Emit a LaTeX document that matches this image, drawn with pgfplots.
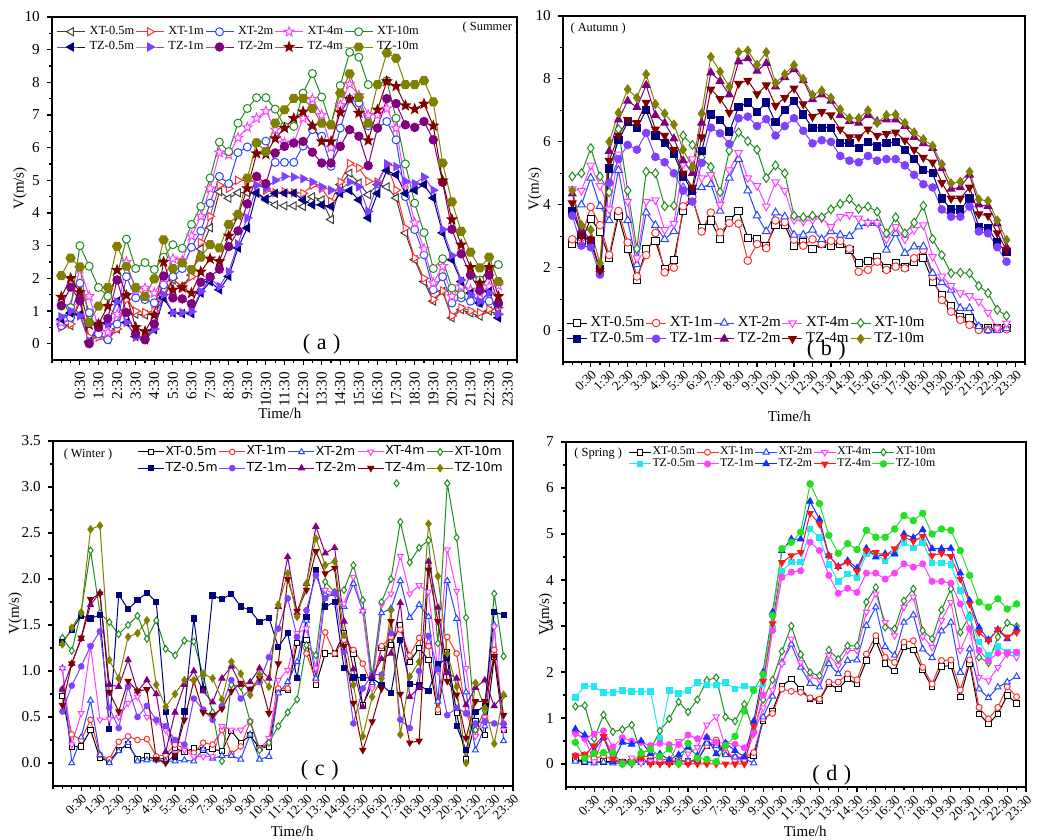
\documentclass[border=0pt]{standalone}
\usepackage{fontspec}
\setmainfont{Liberation Serif}
\newfontfamily\legsans{DejaVu Sans}
\usepackage{pgfplots}
\pgfplotsset{compat=1.18}

\definecolor{cgray}{HTML}{404040}
\definecolor{cred}{HTML}{FF3030}
\definecolor{cblue}{HTML}{2848FF}
\definecolor{cmag}{HTML}{FF40FF}
\definecolor{cgreen}{HTML}{1E8C1E}
\definecolor{cnavy}{HTML}{000080}
\definecolor{cviolet}{HTML}{8040FF}
\definecolor{cpurple}{HTML}{800080}
\definecolor{cmaroon}{HTML}{800000}
\definecolor{colive}{HTML}{808000}
\definecolor{dcyan}{HTML}{20E8F0}
\definecolor{dblue}{HTML}{1030FF}
\definecolor{dred}{HTML}{FF1818}
\definecolor{dgreen}{HTML}{22E022}

\pgfdeclareplotmark{star5}{%
  \pgfpathmoveto{\pgfpointpolar{90}{\pgfplotmarksize}}%
  \pgfpathlineto{\pgfpointpolar{126}{0.42\pgfplotmarksize}}%
  \pgfpathlineto{\pgfpointpolar{162}{\pgfplotmarksize}}%
  \pgfpathlineto{\pgfpointpolar{198}{0.42\pgfplotmarksize}}%
  \pgfpathlineto{\pgfpointpolar{234}{\pgfplotmarksize}}%
  \pgfpathlineto{\pgfpointpolar{270}{0.42\pgfplotmarksize}}%
  \pgfpathlineto{\pgfpointpolar{306}{\pgfplotmarksize}}%
  \pgfpathlineto{\pgfpointpolar{342}{0.42\pgfplotmarksize}}%
  \pgfpathlineto{\pgfpointpolar{18}{\pgfplotmarksize}}%
  \pgfpathlineto{\pgfpointpolar{54}{0.42\pgfplotmarksize}}%
  \pgfpathclose\pgfusepathqfillstroke}
\pgfdeclareplotmark{hexagon}{%
  \pgfpathmoveto{\pgfpointpolar{0}{\pgfplotmarksize}}%
  \pgfpathlineto{\pgfpointpolar{60}{\pgfplotmarksize}}%
  \pgfpathlineto{\pgfpointpolar{120}{\pgfplotmarksize}}%
  \pgfpathlineto{\pgfpointpolar{180}{\pgfplotmarksize}}%
  \pgfpathlineto{\pgfpointpolar{240}{\pgfplotmarksize}}%
  \pgfpathlineto{\pgfpointpolar{300}{\pgfplotmarksize}}%
  \pgfpathclose\pgfusepathqfillstroke}

\newcommand{\ser}[2]{\addplot[#1] table[x expr=\coordindex, y index=0, row sep=\\]{#2};}

\pgfplotsset{
  panel/.style={
    scale only axis, anchor=south west,
    axis line style={line width=0.9pt},
    tick style={black, line width=0.55pt}, tick align=outside,
    major tick length=2.6pt, minor tick length=1.6pt,
    tick pos=left,
    xtick={2,4,...,48},
    xticklabels={0:30,1:30,2:30,3:30,4:30,5:30,6:30,7:30,8:30,9:30,10:30,11:30,12:30,13:30,14:30,15:30,16:30,17:30,18:30,19:30,20:30,21:30,22:30,23:30},
    minor xtick={-1,0,...,49},
    minor y tick num=1,
    /pgf/number format/assume math mode=true,
    every tick label/.append style={font=\fontsize{7.6}{8}\selectfont},
    label style={font=\fontsize{7.5}{8}\selectfont},
    xlabel={Time/h}, ylabel={V(m/s)},
    legend columns=5, legend cell align=left,
    every axis plot/.append style={line width=0.5pt},
  },
  rot45/.style={x tick label style={rotate=45, anchor=north east, inner sep=0.5pt, font=\fontsize{6.6}{7}\selectfont}},
}

\begin{document}
\begin{tikzpicture}
\useasboundingbox (0,0) rectangle (519pt,420pt);

% ---------------- (a) Summer ----------------
\begin{axis}[panel, at={(26pt,240pt)}, width=232.5pt, height=171.5pt,
  xmin=-1, xmax=49, ymin=-0.5, ymax=10, ytick={0,1,...,10},
  x tick label style={rotate=90, anchor=east},
  ylabel shift=-8pt,
  xlabel style={at={(axis description cs:0.49,-0.155)}, anchor=center},
  legend image code/.code={\draw[mark repeat=2,mark phase=2] plot coordinates {(0pt,0pt) (7pt,0pt) (14pt,0pt)};},
  legend style={at={(0.009,0.978)}, anchor=north west, draw=none, fill=none, inner sep=0pt,
    font=\fontsize{6.2}{7}\selectfont, row sep=0.8pt, nodes={inner sep=0.6pt},
    /tikz/every odd column/.append style={column sep=1.4pt}}]
\ser{cgray, mark=triangle*, mark size=2.3pt, mark options={rotate=90, fill=white}}{0.6\\0.55\\1.3\\0.05\\0.25\\0.12\\0.45\\1.45\\0.9\\0.88\\0.9\\1.4\\1.95\\1.75\\2.1\\2.9\\3.55\\4.65\\4.45\\4.62\\4.62\\4.6\\4.4\\4.25\\4.22\\4.22\\4.2\\4.5\\4.4\\3.8\\4.87\\5.22\\4.92\\4.56\\4.87\\4.8\\4.46\\3.39\\2.57\\1.9\\1.3\\1.6\\0.79\\1.04\\0.94\\0.84\\1.0\\0.9\\}
\ser{cred, mark=triangle*, mark size=2.3pt, mark options={rotate=-90, fill=white}}{0.5\\0.6\\1.4\\0.2\\0.2\\0.15\\0.45\\1.35\\1.0\\0.95\\1.0\\1.5\\2.0\\1.7\\2.05\\3.1\\3.9\\4.85\\4.75\\5.0\\5.0\\4.95\\4.7\\4.62\\4.65\\4.62\\4.6\\4.85\\4.75\\4.35\\4.95\\5.52\\5.38\\4.97\\4.95\\5.5\\4.7\\3.54\\2.62\\2.0\\1.35\\1.62\\0.85\\1.1\\1.0\\0.95\\1.05\\1.1\\}
\ser{cblue, mark=*, mark size=2pt, mark options={fill=white}}{0.55\\0.8\\1.85\\0.95\\0.3\\0.12\\0.6\\2.05\\1.4\\1.35\\1.25\\1.8\\2.05\\2.3\\2.95\\3.45\\4.3\\5.12\\4.9\\5.85\\6.02\\6.15\\6.2\\5.55\\5.55\\5.55\\6.05\\6.55\\6.35\\5.43\\6.6\\7.49\\7.37\\6.67\\6.6\\6.8\\6.24\\4.5\\3.49\\2.72\\1.65\\2.05\\1.24\\1.4\\1.3\\1.25\\1.3\\1.2\\}
\ser{cmag, mark=star5, mark size=2.5pt, mark options={fill=white}}{0.65\\1.15\\2.3\\1.45\\0.5\\0.35\\0.9\\2.5\\1.65\\1.7\\1.55\\2.0\\2.6\\2.55\\3.3\\3.9\\4.75\\5.85\\5.78\\6.3\\6.62\\6.9\\7.12\\6.55\\6.15\\6.15\\6.9\\7.49\\7.0\\6.0\\7.3\\7.95\\7.6\\7.0\\7.0\\7.2\\6.6\\4.9\\3.7\\2.9\\1.86\\2.37\\1.45\\1.75\\1.65\\1.55\\1.75\\1.78\\}
\ser{cgreen, mark=*, mark size=2pt, mark options={fill=white}}{1.15\\1.1\\3.0\\2.37\\1.72\\1.45\\2.1\\3.2\\2.3\\2.48\\2.27\\2.65\\3.03\\2.92\\3.65\\4.2\\5.07\\6.17\\5.88\\6.75\\7.2\\7.53\\7.53\\7.18\\6.65\\6.65\\7.67\\8.27\\7.55\\6.7\\7.9\\8.92\\8.77\\7.93\\7.93\\8.05\\6.9\\5.5\\4.3\\3.4\\2.3\\2.6\\1.7\\1.5\\2.1\\1.95\\2.25\\2.42\\}
\ser{cnavy, mark=triangle*, mark size=2.3pt, mark options={rotate=90}}{0.75\\0.94\\0.89\\0.07\\0.58\\0.63\\1.3\\0.65\\0.22\\0.12\\0.43\\1.4\\0.94\\0.92\\0.92\\1.55\\1.9\\1.65\\2.06\\2.93\\3.54\\4.62\\4.43\\4.6\\4.61\\4.61\\4.4\\4.25\\4.25\\4.2\\4.6\\4.69\\4.4\\3.85\\4.6\\5.3\\5.17\\4.6\\4.7\\4.87\\4.46\\3.39\\2.57\\1.9\\1.55\\1.24\\1.6\\0.79\\}
\ser{cviolet, mark=triangle*, mark size=2.3pt, mark options={rotate=-90}}{0.82\\1.0\\0.85\\0.08\\0.6\\0.6\\1.28\\0.65\\0.2\\0.15\\0.45\\1.5\\0.95\\0.95\\0.98\\1.6\\2.0\\1.75\\2.2\\3.05\\3.85\\4.85\\4.75\\5.0\\5.12\\5.1\\5.05\\4.95\\4.8\\4.7\\4.7\\4.95\\4.8\\4.05\\4.9\\5.5\\5.42\\4.97\\4.9\\5.1\\4.7\\3.5\\2.7\\1.95\\1.5\\1.3\\1.55\\0.9\\}
\ser{cpurple, mark=*, mark size=2.1pt}{1.17\\1.73\\1.32\\0.0\\0.5\\0.77\\1.95\\0.95\\0.3\\0.12\\0.6\\2.07\\1.4\\1.37\\1.22\\1.88\\2.05\\2.28\\2.97\\3.45\\4.28\\5.12\\4.9\\5.84\\6.04\\6.14\\6.19\\5.86\\5.53\\5.53\\6.04\\6.55\\6.35\\5.45\\6.6\\7.5\\7.35\\6.7\\6.62\\6.8\\6.24\\4.94\\3.5\\2.75\\2.1\\1.63\\2.1\\1.24\\}
\ser{cmaroon, mark=star5, mark size=2.5pt}{1.43\\2.0\\1.57\\0.58\\0.6\\1.15\\2.25\\1.48\\0.5\\0.37\\0.88\\2.5\\1.65\\1.72\\1.55\\2.2\\2.6\\2.52\\3.3\\3.92\\4.75\\5.82\\5.8\\6.28\\6.6\\6.9\\7.1\\6.67\\6.19\\6.19\\7.08\\7.49\\7.06\\6.22\\7.16\\8.03\\7.88\\7.29\\7.18\\7.34\\6.67\\4.99\\3.8\\3.03\\2.34\\1.86\\2.34\\1.45\\}
\ser{colive, mark=hexagon, mark size=2.3pt}{2.08\\2.62\\2.35\\0.65\\1.15\\1.72\\2.98\\2.37\\1.72\\1.45\\1.98\\3.18\\2.3\\2.47\\2.27\\2.65\\3.03\\2.93\\3.65\\3.95\\5.07\\6.15\\5.88\\6.75\\7.16\\7.51\\7.51\\7.2\\6.75\\6.7\\7.67\\8.26\\7.54\\6.75\\7.93\\8.9\\8.74\\7.93\\7.93\\8.05\\7.4\\5.53\\4.34\\3.44\\2.8\\2.32\\2.65\\1.9\\}
\legend{XT-0.5m,XT-1m,XT-2m,XT-4m,XT-10m,TZ-0.5m,TZ-1m,TZ-2m,TZ-4m,TZ-10m}
\node[font=\fontsize{6.2}{7}\selectfont] at (rel axis cs:0.944,0.968) {(\hspace{0.25em}Summer\hspace{0.25em})};
\node[font=\fontsize{11}{12}\selectfont] at (rel axis cs:0.58,0.045) {(\hspace{0.3em}a\hspace{0.3em})};
\end{axis}

% ---------------- (b) Autumn ----------------
\begin{axis}[panel, rot45, at={(281.5pt,239pt)}, width=231pt, height=173pt,
  xmin=-1, xmax=49, ymin=-1, ymax=10, ytick={0,2,...,10},
  ylabel shift=-10pt,
  xlabel style={at={(axis description cs:0.49,-0.156)}, anchor=center},
  legend image code/.code={\draw[mark repeat=2,mark phase=2] plot coordinates {(0pt,0pt) (5pt,0pt) (10pt,0pt)};},
  legend style={at={(0.006,0.136)}, anchor=north west, draw=none, fill=none, inner sep=0pt,
    font=\fontsize{7.5}{8}\selectfont, row sep=0.2pt, nodes={inner sep=0.6pt},
    /tikz/every odd column/.append style={column sep=1pt}}]
\ser{black, mark=square*, mark size=1.8pt, mark options={fill=white}}{2.75\\2.85\\3.55\\3.15\\2.3\\3.65\\2.6\\1.6\\2.6\\2.85\\1.95\\2.25\\3.8\\4.2\\3.25\\3.5\\2.9\\3.5\\3.8\\2.95\\2.9\\2.7\\3.35\\3.35\\2.7\\2.8\\2.6\\2.75\\2.7\\2.75\\2.55\\2.14\\2.22\\2.35\\1.98\\2.14\\2.03\\2.19\\2.3\\1.56\\1.13\\0.78\\0.44\\0.39\\0.07\\0.07\\0.07\\0.07\\}
\ser{cred, mark=*, mark size=1.9pt, mark options={fill=white}}{2.9\\2.95\\3.93\\3.35\\2.4\\3.8\\2.8\\1.72\\2.4\\3.1\\1.85\\2.0\\3.95\\4.25\\3.15\\3.75\\3.12\\3.42\\3.4\\2.22\\2.75\\2.62\\3.5\\3.45\\2.89\\2.7\\2.9\\2.75\\2.85\\2.85\\2.6\\1.87\\1.93\\2.19\\1.93\\2.03\\1.98\\2.3\\2.56\\1.72\\0.97\\0.6\\0.34\\0.18\\0.02\\0.02\\0.07\\0.04\\}
\ser{cblue, mark=triangle*, mark size=2.2pt, mark options={fill=white}}{3.85\\4.0\\4.85\\3.95\\3.5\\5.1\\3.5\\2.1\\3.75\\3.35\\2.9\\3.15\\4.55\\4.45\\4.55\\4.65\\3.8\\4.85\\5.45\\4.45\\3.65\\3.15\\3.75\\3.62\\3.04\\3.04\\3.2\\2.9\\3.15\\3.04\\3.0\\3.3\\3.41\\3.41\\2.56\\3.09\\2.46\\2.67\\2.67\\1.82\\1.53\\1.29\\0.71\\0.71\\0.13\\0.0\\0.0\\0.07\\}
\ser{cmag, mark=triangle*, mark size=2.2pt, mark options={rotate=180, fill=white}}{4.5\\4.45\\5.25\\4.6\\3.85\\5.6\\4.1\\2.3\\4.1\\4.15\\3.2\\3.4\\5.3\\5.45\\4.85\\4.95\\4.0\\5.1\\5.65\\4.85\\4.6\\3.95\\4.72\\4.45\\3.52\\3.47\\3.52\\3.57\\3.3\\3.62\\3.68\\3.57\\3.43\\3.43\\2.9\\3.3\\2.9\\3.2\\3.35\\2.35\\1.72\\1.42\\1.19\\1.1\\0.92\\0.57\\0.07\\0.23\\}
\ser{cgreen, mark=diamond*, mark size=2.2pt, mark options={fill=white}}{4.9\\5.0\\5.8\\4.9\\4.4\\6.4\\4.45\\2.6\\5.05\\5.0\\3.95\\3.97\\6.2\\5.9\\5.5\\5.2\\4.4\\5.72\\6.3\\6.02\\5.75\\4.85\\5.25\\5.0\\3.65\\3.6\\3.65\\3.6\\3.85\\4.03\\4.18\\3.87\\3.94\\3.78\\3.09\\3.6\\3.09\\3.43\\3.97\\2.91\\2.4\\1.82\\1.84\\1.82\\1.42\\1.19\\0.66\\0.47\\}
\ser{cnavy, mark=square*, mark size=1.8pt}{3.8\\3.05\\2.8\\1.95\\5.15\\6.05\\6.62\\6.45\\7.0\\6.2\\5.95\\5.6\\4.9\\4.45\\5.7\\6.87\\6.7\\6.33\\7.1\\7.25\\6.95\\7.25\\6.62\\7.0\\7.3\\6.87\\6.44\\6.45\\6.45\\5.95\\5.95\\5.8\\6.0\\5.85\\5.95\\6.0\\5.75\\5.45\\5.1\\5.0\\4.2\\3.85\\3.85\\4.2\\3.3\\3.25\\2.8\\2.5\\}
\ser{cviolet, mark=*, mark size=1.9pt}{3.65\\2.7\\2.65\\1.78\\4.7\\5.45\\5.9\\5.75\\6.28\\5.52\\5.35\\5.0\\4.45\\4.1\\5.33\\6.45\\6.27\\5.93\\6.75\\6.8\\6.5\\6.72\\6.2\\6.5\\6.75\\6.35\\5.95\\6.05\\6.0\\5.55\\5.4\\5.35\\5.55\\5.4\\5.45\\5.45\\5.25\\4.95\\4.65\\4.55\\3.85\\3.62\\3.62\\3.94\\3.15\\3.09\\2.65\\2.19\\}
\ser{cpurple, mark=triangle*, mark size=2.2pt}{4.35\\3.2\\2.9\\1.95\\5.7\\6.7\\7.3\\7.1\\7.8\\6.85\\6.6\\6.1\\5.4\\5.0\\6.6\\8.2\\7.93\\7.5\\8.55\\8.65\\8.25\\8.5\\7.75\\8.05\\8.3\\7.95\\7.35\\7.5\\7.3\\6.85\\6.65\\6.6\\6.85\\6.65\\6.7\\6.7\\6.5\\6.15\\5.95\\5.8\\5.15\\4.5\\4.55\\4.95\\4.0\\3.95\\3.4\\2.65\\}
\ser{cmaroon, mark=triangle*, mark size=2.2pt, mark options={rotate=180}}{4.05\\3.0\\2.9\\1.9\\5.4\\6.2\\6.7\\6.6\\7.25\\6.4\\6.2\\5.75\\5.0\\4.55\\6.15\\7.67\\7.37\\6.93\\7.85\\7.95\\7.52\\7.8\\7.15\\7.4\\7.7\\7.2\\6.8\\6.95\\6.85\\6.4\\6.15\\6.15\\6.4\\6.2\\6.25\\6.3\\6.05\\5.75\\5.5\\5.35\\4.7\\4.2\\4.2\\4.55\\3.7\\3.65\\3.1\\2.55\\}
\ser{colive, mark=diamond*, mark size=2.2pt}{4.45\\3.35\\3.2\\2.14\\6.0\\6.92\\7.67\\7.4\\8.15\\7.2\\6.9\\6.55\\5.75\\5.2\\6.9\\8.7\\8.23\\7.75\\8.85\\8.9\\8.45\\8.85\\7.87\\8.15\\8.44\\8.0\\7.49\\7.63\\7.4\\7.03\\6.75\\6.75\\7.0\\6.6\\6.85\\6.87\\6.6\\6.3\\6.08\\5.87\\5.29\\4.68\\4.73\\5.05\\4.17\\4.12\\3.5\\2.88\\}
\legend{XT-0.5m,XT-1m,XT-2m,XT-4m,XT-10m,TZ-0.5m,TZ-1m,TZ-2m,TZ-4m,TZ-10m}
\node[font=\fontsize{6.2}{7}\selectfont] at (rel axis cs:0.076,0.965) {(\hspace{0.25em}Autumn\hspace{0.25em})};
\node[font=\fontsize{11}{12}\selectfont] at (rel axis cs:0.57,0.035) {(\hspace{0.3em}b\hspace{0.3em})};
\end{axis}

% ---------------- (c) Winter ----------------
\begin{axis}[panel, rot45, at={(26.5pt,27pt)}, width=230pt, height=172.5pt,
  xmin=-1, xmax=48, ymin=-0.25, ymax=3.5, ytick={0,0.5,...,3.5},
  yticklabel style={/pgf/number format/.cd, fixed, fixed zerofill, precision=1},
  ylabel shift=-7pt,
  xlabel style={at={(axis description cs:0.52,-0.132)}, anchor=center},
  legend image code/.code={\draw[mark repeat=2,mark phase=2] plot coordinates {(0pt,0pt) (6.5pt,0pt) (13pt,0pt)};},
  legend style={at={(0.183,0.99)}, anchor=north west, draw=none, fill=none, inner sep=0pt,
    font=\legsans\fontsize{6.2}{7}\selectfont, row sep=1pt, nodes={inner sep=0.5pt}}]
\ser{black, mark=square*, mark size=1.3pt, mark options={fill=white}}{0.73\\0.18\\0.18\\0.36\\0.05\\0.02\\0.14\\0.2\\0.04\\0.07\\0.04\\0.05\\0.16\\0.12\\0.16\\0.14\\0.15\\0.13\\0.35\\0.22\\0.3\\0.16\\0.18\\0.79\\0.79\\1.3\\1.34\\0.85\\1.19\\1.19\\1.41\\1.19\\0.63\\0.85\\1.25\\1.28\\1.5\\1.1\\1.25\\1.12\\0.55\\1.2\\0.54\\0.04\\0.45\\0.3\\1.15\\0.36\\}
\ser{cred, mark=*, mark size=1.4pt, mark options={fill=white}}{0.8\\0.31\\0.25\\0.47\\0.09\\0.04\\0.23\\0.29\\0.25\\0.26\\0.07\\0.09\\0.2\\0.16\\0.11\\0.22\\0.2\\0.36\\0.1\\0.18\\0.45\\0.16\\0.22\\0.81\\0.81\\1.37\\1.19\\0.9\\1.42\\1.19\\1.34\\1.23\\1.08\\0.83\\1.27\\1.37\\1.45\\1.17\\1.36\\1.27\\0.58\\1.37\\1.19\\0.54\\0.31\\0.5\\1.23\\0.43\\}
\ser{cblue, mark=triangle*, mark size=1.7pt, mark options={fill=white}}{1.03\\0.0\\0.28\\0.68\\0.09\\0.0\\0.13\\0.22\\0.02\\0.03\\0.03\\0.02\\0.02\\0.03\\0.02\\0.15\\0.05\\0.08\\0.08\\0.04\\0.31\\0.04\\0.07\\0.76\\0.88\\1.1\\1.55\\0.92\\1.83\\1.84\\1.7\\1.95\\1.65\\0.87\\1.63\\1.68\\1.98\\1.58\\1.72\\1.59\\0.67\\1.98\\1.57\\0.77\\0.14\\0.4\\1.5\\0.24\\}
\ser{cmag, mark=triangle*, mark size=1.7pt, mark options={rotate=180, fill=white}}{1.03\\0.2\\0.54\\1.27\\0.47\\0.48\\0.5\\0.65\\0.72\\0.5\\0.45\\0.36\\0.11\\0.14\\0.07\\0.07\\0.07\\0.4\\0.36\\0.36\\0.45\\0.15\\0.27\\0.9\\1.01\\1.41\\1.46\\1.03\\1.88\\1.84\\1.73\\2.02\\1.65\\0.81\\1.72\\1.84\\2.25\\1.84\\1.93\\1.86\\1.0\\2.32\\1.87\\1.03\\0.29\\0.5\\1.48\\0.36\\}
\ser{cgreen, mark=diamond*, mark size=1.7pt, mark options={fill=white}}{1.36\\1.22\\1.64\\2.31\\1.63\\1.53\\1.4\\1.5\\1.6\\1.35\\1.55\\1.24\\1.17\\1.33\\1.32\\0.95\\0.55\\0.02\\0.85\\0.83\\0.45\\0.14\\0.22\\0.4\\0.55\\0.69\\1.28\\1.17\\1.97\\1.86\\1.88\\2.15\\1.77\\0.94\\1.75\\2.0\\2.62\\2.18\\2.34\\2.42\\1.3\\3.04\\2.45\\1.58\\0.36\\0.57\\1.84\\1.16\\}
\ser{cnavy, mark=square*, mark size=1.3pt}{1.31\\1.45\\1.6\\1.57\\1.61\\0.37\\1.83\\1.67\\1.77\\1.85\\1.75\\0.55\\0.07\\0.56\\1.57\\0.8\\1.82\\1.78\\1.84\\1.7\\1.66\\1.53\\1.58\\1.26\\1.41\\0.92\\1.59\\2.1\\1.7\\1.75\\1.03\\0.93\\0.93\\0.92\\0.85\\0.76\\1.34\\0.86\\0.85\\0.78\\1.07\\1.14\\0.4\\0.14\\0.55\\0.62\\1.64\\1.61\\}
\ser{cviolet, mark=*, mark size=1.4pt}{0.56\\0.84\\1.05\\1.27\\1.43\\0.6\\0.38\\0.83\\0.5\\0.62\\0.47\\0.4\\0.25\\0.2\\0.7\\0.58\\0.47\\0.62\\0.9\\0.7\\0.8\\0.88\\1.15\\1.46\\1.79\\1.37\\1.66\\2.04\\1.79\\1.85\\1.21\\0.43\\0.81\\0.96\\0.96\\1.41\\0.47\\0.38\\1.0\\1.38\\1.02\\0.52\\0.6\\0.54\\0.43\\0.45\\0.43\\0.42\\}
\ser{cpurple, mark=triangle*, mark size=1.7pt}{0.8\\1.08\\1.35\\1.72\\1.85\\0.85\\0.83\\1.12\\0.78\\0.9\\0.75\\0.12\\0.55\\0.85\\1.0\\0.78\\0.66\\0.92\\1.05\\0.85\\0.88\\1.03\\0.92\\1.7\\2.24\\1.63\\1.95\\2.57\\2.28\\2.34\\1.54\\1.02\\0.61\\0.94\\1.13\\1.19\\1.74\\0.72\\0.82\\2.19\\1.69\\0.98\\0.92\\0.63\\0.82\\0.9\\0.62\\0.74\\}
\ser{cmaroon, mark=triangle*, mark size=1.7pt, mark options={rotate=180}}{0.63\\1.08\\1.36\\1.78\\1.84\\0.77\\0.56\\0.89\\0.78\\0.8\\0.04\\0.0\\0.09\\0.47\\0.89\\0.55\\0.52\\0.59\\0.78\\0.87\\0.8\\0.92\\0.54\\1.08\\2.0\\1.65\\1.88\\2.3\\2.06\\2.12\\1.27\\0.65\\0.14\\0.45\\0.81\\1.54\\0.75\\0.22\\0.24\\2.1\\1.54\\0.89\\0.74\\0.27\\0.67\\0.67\\1.16\\0.52\\}
\ser{colive, mark=diamond*, mark size=1.8pt}{1.29\\1.47\\1.63\\2.54\\2.58\\1.12\\0.92\\1.37\\1.41\\1.55\\0.85\\0.61\\0.75\\0.9\\0.9\\0.97\\0.92\\0.69\\1.1\\0.97\\0.74\\0.96\\0.83\\1.72\\2.06\\1.59\\1.95\\2.44\\2.15\\2.19\\1.39\\0.85\\0.29\\0.72\\0.92\\1.66\\0.31\\0.94\\1.1\\2.6\\2.03\\1.19\\0.83\\0.0\\0.87\\0.6\\0.21\\0.74\\}
\addplot[cgreen, only marks, mark=diamond*, mark size=1.7pt, mark options={fill=white}, forget plot] coordinates {(35.6,3.04)};
\legend{XT-0.5m,XT-1m,XT-2m,XT-4m,XT-10m,TZ-0.5m,TZ-1m,TZ-2m,TZ-4m,TZ-10m}
\node[font=\fontsize{6.2}{7}\selectfont] at (rel axis cs:0.076,0.962) {(\hspace{0.25em}Winter\hspace{0.25em})};
\node[font=\fontsize{11}{12}\selectfont] at (rel axis cs:0.58,0.046) {(\hspace{0.3em}c\hspace{0.3em})};
\end{axis}

% ---------------- (d) Spring ----------------
\begin{axis}[panel, rot45, at={(283pt,26.5pt)}, width=230pt, height=172.5pt,
  xmin=-1, xmax=48, ymin=-0.5, ymax=7, ytick={0,1,...,7},
  ylabel shift=-10pt,
  xlabel style={at={(axis description cs:0.52,-0.13)}, anchor=center},
  legend image code/.code={\draw[mark repeat=2,mark phase=2] plot coordinates {(0pt,0pt) (5.5pt,0pt) (11pt,0pt)};},
  legend style={at={(0.135,0.99)}, anchor=north west, draw=none, fill=none, inner sep=0pt,
    font=\fontsize{5.9}{6.5}\selectfont, row sep=-0.6pt, nodes={inner sep=0.5pt}}]
\ser{black, mark=square*, mark size=1.4pt, mark options={fill=white}}{0.12\\0.04\\0.04\\0.05\\0.06\\0.04\\0.04\\0.05\\0.05\\0.04\\0.04\\0.05\\0.06\\0.1\\0.4\\0.45\\0.22\\0.11\\0.11\\0.18\\0.94\\1.15\\1.7\\1.85\\1.63\\1.41\\1.38\\1.74\\1.63\\1.85\\1.74\\2.25\\2.68\\2.18\\2.02\\2.54\\2.48\\2.04\\1.67\\2.12\\2.14\\1.46\\2.19\\1.09\\0.87\\1.09\\1.49\\1.32\\}
\ser{cred, mark=*, mark size=1.5pt, mark options={fill=white}}{0.18\\0.2\\0.12\\0.18\\0.1\\0.04\\0.07\\0.15\\0.18\\0.1\\0.09\\0.08\\0.06\\0.1\\0.4\\0.52\\0.25\\0.15\\0.15\\0.25\\0.98\\1.1\\1.63\\1.58\\1.56\\1.44\\1.41\\1.78\\1.78\\1.96\\1.83\\2.39\\2.79\\2.32\\2.21\\2.65\\2.68\\2.1\\1.74\\2.25\\2.26\\1.61\\2.26\\1.23\\0.98\\1.23\\1.68\\1.46\\}
\ser{cblue, mark=triangle*, mark size=1.8pt, mark options={fill=white}}{0.06\\0.04\\0.02\\0.04\\0.02\\0.02\\0.03\\0.04\\0.05\\0.05\\0.05\\0.05\\0.06\\0.06\\0.45\\0.4\\0.2\\0.15\\0.12\\0.02\\1.02\\1.47\\2.21\\2.6\\2.1\\1.75\\1.67\\2.18\\1.96\\2.25\\2.26\\3.01\\3.41\\2.55\\2.36\\3.08\\3.24\\2.5\\2.31\\2.89\\3.08\\1.99\\2.5\\1.63\\1.44\\1.67\\1.78\\1.9\\}
\ser{cmag, mark=triangle*, mark size=1.8pt, mark options={rotate=180, fill=white}}{0.65\\0.55\\0.05\\0.6\\0.2\\0.02\\0.13\\0.02\\0.05\\0.05\\0.05\\0.49\\0.22\\0.36\\0.85\\1.03\\0.35\\0.06\\0.07\\0.65\\1.22\\1.61\\2.18\\2.72\\2.21\\1.89\\1.83\\2.36\\2.14\\2.47\\2.47\\3.3\\3.7\\3.08\\2.79\\3.41\\3.63\\2.77\\2.54\\3.12\\3.52\\2.47\\2.94\\1.89\\1.81\\2.1\\2.39\\2.32\\}
\ser{cgreen, mark=diamond*, mark size=1.8pt, mark options={fill=white}}{1.25\\1.27\\0.55\\1.07\\0.7\\0.75\\0.85\\0.25\\0.3\\0.72\\0.98\\1.35\\1.13\\1.4\\1.82\\1.88\\1.02\\0.93\\1.3\\0.72\\1.4\\1.83\\2.45\\3.0\\2.38\\1.99\\1.92\\2.48\\2.28\\2.57\\2.57\\3.52\\3.84\\2.97\\2.94\\3.55\\3.81\\2.9\\2.72\\3.35\\3.81\\2.86\\3.23\\2.32\\2.2\\2.76\\3.07\\2.99\\}
\ser{dcyan, mark=square*, mark size=1.4pt}{1.45\\1.7\\1.68\\1.55\\1.55\\1.6\\1.58\\1.58\\1.58\\0.55\\1.6\\1.53\\1.6\\1.77\\1.72\\1.72\\1.77\\1.63\\1.7\\1.63\\1.75\\2.95\\4.2\\4.39\\4.39\\5.11\\4.92\\4.34\\3.97\\4.13\\4.06\\4.57\\4.57\\4.41\\4.57\\4.82\\4.7\\4.82\\4.37\\4.37\\4.34\\3.77\\3.19\\2.65\\2.36\\2.55\\2.43\\2.43\\}
\ser{cmag, mark=*, mark size=1.5pt}{0.68\\0.55\\0.65\\0.72\\0.37\\0.57\\0.5\\0.47\\0.4\\0.45\\0.42\\0.42\\0.63\\0.55\\0.57\\0.47\\0.45\\0.43\\0.35\\0.68\\1.5\\2.9\\4.06\\4.17\\4.2\\4.82\\4.64\\4.1\\3.71\\3.82\\3.73\\4.15\\4.15\\4.02\\4.15\\4.35\\4.28\\4.35\\3.97\\3.97\\3.93\\3.48\\2.94\\2.47\\2.25\\2.41\\2.41\\2.43\\}
\ser{dblue, mark=triangle*, mark size=1.8pt}{0.76\\0.63\\0.29\\0.58\\0.05\\0.47\\0.43\\0.5\\0.22\\0.22\\0.09\\0.2\\0.36\\0.18\\0.58\\0.22\\0.45\\0.29\\0.15\\0.93\\2.0\\3.3\\4.64\\4.89\\4.89\\5.71\\5.32\\4.53\\4.29\\4.42\\4.26\\4.69\\4.5\\4.57\\4.57\\5.0\\4.92\\5.09\\4.68\\4.68\\4.69\\4.15\\3.55\\2.97\\2.7\\2.92\\2.72\\2.94\\}
\ser{dred, mark=triangle*, mark size=1.8pt, mark options={rotate=180}}{0.18\\0.2\\0.4\\0.6\\0.11\\0.0\\0.0\\0.15\\0.0\\0.0\\0.0\\0.0\\0.0\\0.0\\0.0\\0.0\\0.0\\0.0\\0.0\\0.83\\1.8\\3.05\\4.38\\4.53\\4.6\\5.45\\5.22\\4.53\\4.29\\4.39\\4.19\\4.64\\4.6\\4.53\\4.68\\4.93\\4.84\\4.95\\4.53\\4.58\\4.51\\4.02\\3.48\\2.86\\2.68\\2.92\\2.76\\2.86\\}
\ser{dgreen, mark=*, mark size=1.6pt}{0.47\\0.12\\0.23\\0.25\\0.25\\0.0\\0.02\\0.23\\0.32\\0.17\\0.33\\0.01\\0.45\\0.13\\0.1\\0.05\\0.4\\0.6\\1.15\\1.6\\1.95\\3.23\\4.68\\4.82\\5.04\\6.09\\5.66\\4.97\\4.58\\4.79\\4.66\\5.08\\4.93\\4.93\\5.11\\5.4\\5.29\\5.45\\5.0\\5.11\\5.08\\4.64\\4.1\\3.52\\3.41\\3.59\\3.37\\3.48\\}
\legend{XT-0.5m,XT-1m,XT-2m,XT-4m,XT-10m,TZ-0.5m,TZ-1m,TZ-2m,TZ-4m,TZ-10m}
\node[font=\fontsize{6.2}{7}\selectfont] at (rel axis cs:0.07,0.968) {(\hspace{0.25em}Spring\hspace{0.25em})};
\node[font=\fontsize{11}{12}\selectfont] at (rel axis cs:0.578,0.035) {(\hspace{0.3em}d\hspace{0.3em})};
\end{axis}
\end{tikzpicture}
\end{document}
